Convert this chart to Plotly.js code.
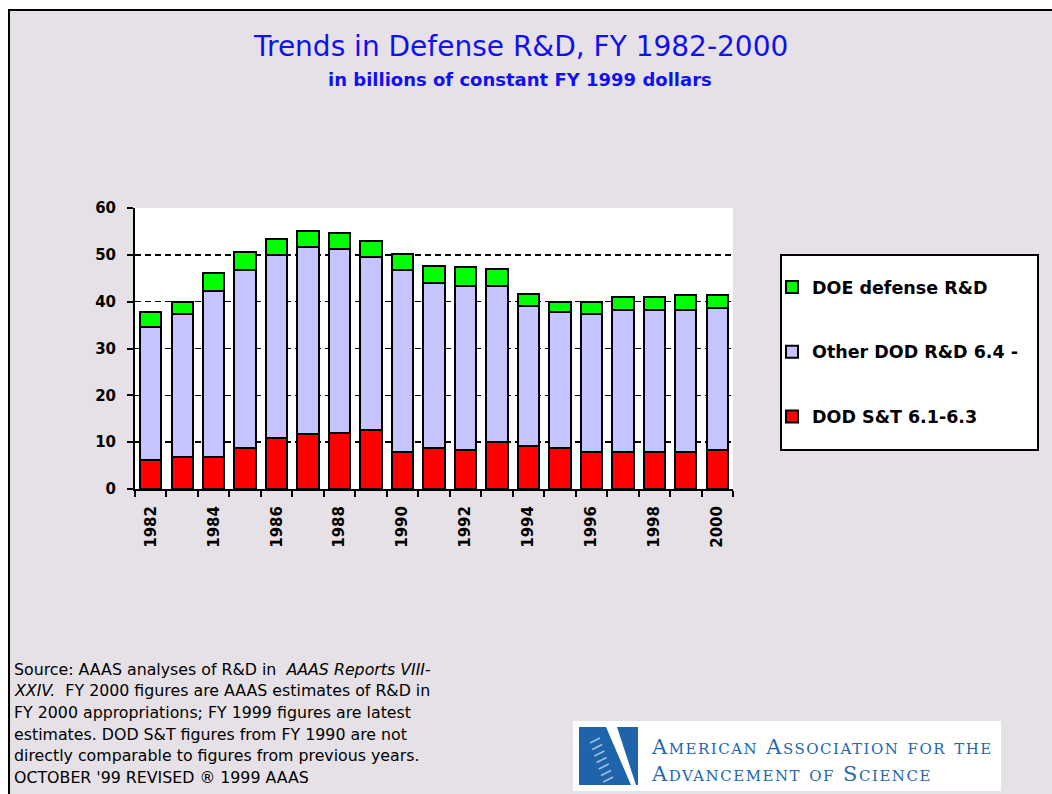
<!DOCTYPE html>
<html>
<head>
<meta charset="utf-8">
<script src="https://cdn.plot.ly/plotly-3.0.1.min.js"></script>
<style>
  html, body { margin: 0; padding: 0; background: #ffffff; }
  #chart { width: 1052px; height: 794px; }
</style>
</head>
<body>
<div id="chart"></div>
<script>
// ---- data (billions of constant FY 1999 dollars) ----
const years = [1982, 1983, 1984, 1985, 1986, 1987, 1988, 1989, 1990, 1991,
               1992, 1993, 1994, 1995, 1996, 1997, 1998, 1999, 2000];
const dodST = [6.2, 6.9, 6.8, 8.8, 10.8, 11.7, 12.0, 12.5, 8.0, 8.7,
               8.3, 10.0, 9.2, 8.7, 7.8, 7.8, 7.8, 7.8, 8.3];
const otherDOD = [28.3, 30.4, 35.5, 37.9, 39.2, 39.9, 39.2, 37.1, 38.8, 35.2,
                  35.1, 33.4, 29.8, 29.1, 29.6, 30.4, 30.4, 30.4, 30.3];
const doeDefense = [3.2, 2.7, 3.8, 3.9, 3.4, 3.4, 3.4, 3.3, 3.3, 3.8,
                    4.0, 3.5, 2.7, 2.2, 2.6, 2.7, 2.7, 3.3, 2.9];
const seriesNames = ["DOD S&T 6.1-6.3", "Other DOD R&D 6.4 -", "DOE defense R&D"];
const yTicks = [0, 10, 20, 30, 40, 50, 60];

const titleText = "Trends in Defense R&D, FY 1982-2000";
const subtitleText = "in billions of constant FY 1999 dollars";
const noteLines = [
  "Source: AAAS analyses of R&D in  <i>AAAS Reports VIII-</i>",
  "<i>XXIV.</i>  FY 2000 figures are AAAS estimates of R&D in",
  "FY 2000 appropriations; FY 1999 figures are latest",
  "estimates. DOD S&T figures from FY 1990 are not",
  "directly comparable to figures from previous years.",
  "OCTOBER '99 REVISED \u00AE 1999 AAAS"
];
const logoLines = ["American Association for the", "Advancement of Science"];

// ---- layout geometry (pixels) ----
const W = 1052, H = 794;
const M = { l: 135, r: 319, t: 208, b: 305 };
const PW = W - M.l - M.r, PH = H - M.t - M.b;
const X = px => (px - M.l) / PW;
const Y = py => (H - M.b - py) / PH;
const path = pts => pts.map((p, i) => (i ? "L" : "M") + X(p[0]) + "," + Y(p[1])).join(" ") + " Z";

const colors = ["#FF0000", "#C6C4FE", "#00FF00"];
const lineSpec = { color: "#000000", width: 2 };
const values = [dodST, otherDOD, doeDefense];

const data = values.map((v, i) => ({
  type: "bar",
  x: years,
  y: v,
  name: seriesNames[i],
  legendgroup: "g" + i,
  legendrank: 3 - i,
  width: 0.68,
  marker: { color: colors[i], line: lineSpec },
  hoverinfo: "x+y+name"
}));

const shapes = [
  // outer frame
  { type: "rect", xref: "paper", yref: "paper", x0: X(0), x1: X(W), y0: Y(0), y1: Y(9),
    fillcolor: "#ffffff", line: { width: 0 }, layer: "above" },
  { type: "rect", xref: "paper", yref: "paper", x0: X(0), x1: X(8), y0: Y(0), y1: Y(H),
    fillcolor: "#ffffff", line: { width: 0 }, layer: "above" },
  { type: "line", xref: "paper", yref: "paper", x0: X(8), x1: X(W), y0: Y(10), y1: Y(10),
    line: { color: "#000", width: 2 }, layer: "above" },
  { type: "line", xref: "paper", yref: "paper", x0: X(9), x1: X(9), y0: Y(9), y1: Y(H),
    line: { color: "#000", width: 2 }, layer: "above" },
  // legend box
  { type: "rect", xref: "paper", yref: "paper", x0: X(781), x1: X(1038), y0: Y(255), y1: Y(450),
    fillcolor: "#ffffff", line: { color: "#000", width: 2 }, layer: "above" },
  // logo panel
  { type: "rect", xref: "paper", yref: "paper", x0: X(573), x1: X(1001), y0: Y(721), y1: Y(791),
    fillcolor: "#ffffff", line: { width: 0 }, layer: "above" },
  { type: "path", xref: "paper", yref: "paper",
    path: path([[579, 727], [606, 727], [631, 785], [579, 785]]),
    fillcolor: "#1F63AA", line: { width: 0 }, layer: "above" },
  { type: "path", xref: "paper", yref: "paper",
    path: path([[617, 727], [638, 727], [638, 785], [636, 785]]),
    fillcolor: "#1F63AA", line: { width: 0 }, layer: "above" }
];
// light ladder pattern in the logo
for (let k = 0; k < 7; k++) {
  const yy = 740 + k * 6.5;
  shapes.push({ type: "line", xref: "paper", yref: "paper",
    x0: X(590 + k * 2.2), x1: X(600 + k * 2.2), y0: Y(yy + 3), y1: Y(yy - 2),
    line: { color: "#9FC0E4", width: 1.5 }, layer: "above" });
}

const annotations = [
  { text: titleText, x: X(520), y: Y(46), xref: "paper", yref: "paper", showarrow: false,
    xanchor: "center", yanchor: "middle",
    font: { family: "DejaVu Sans", size: 28, color: "#1010F0" } },
  { text: "<b>" + subtitleText + "</b>", x: X(520), y: Y(80), xref: "paper", yref: "paper",
    showarrow: false, xanchor: "center", yanchor: "middle",
    font: { family: "DejaVu Sans", size: 18, color: "#1010F0" } }
];
noteLines.forEach((t, i) => {
  annotations.push({ text: t, x: X(12), y: Y(669 + i * 21.7), xref: "paper", yref: "paper",
    showarrow: false, xanchor: "left", yanchor: "middle",
    font: { family: "DejaVu Sans", size: 15.8, color: "#000000" } });
});
logoLines.forEach((t, i) => {
  annotations.push({ text: '<span style="letter-spacing:1.5px">' + t + '</span>',
    x: X(649), y: Y(747 + i * 27), xref: "paper", yref: "paper",
    showarrow: false, xanchor: "left", yanchor: "middle",
    font: { family: "DejaVu Serif", size: 21, color: "#2466AE", variant: "small-caps" } });
});

const layout = {
  width: W, height: H,
  margin: M,
  paper_bgcolor: "#E6E1E6",
  plot_bgcolor: "#FFFFFF",
  barmode: "stack",
  showlegend: true,
  legend: {
    x: X(772), y: Y(352), xanchor: "left", yanchor: "middle",
    traceorder: "grouped", tracegroupgap: 39,
    bgcolor: "rgba(0,0,0,0)", borderwidth: 0,
    font: { family: "DejaVu Sans", size: 17.5, color: "#000", weight: "bold" }
  },
  xaxis: {
    range: [1981.5, 2000.5],
    tickmode: "linear", tick0: 1982, dtick: 2,
    ticks: "", tickangle: -90,
    ticklabelstandoff: 9,
    tickfont: { family: "DejaVu Sans", size: 15, color: "#000", weight: "bold" },
    minor: { tickmode: "linear", tick0: 1981.5, dtick: 1, ticks: "outside", ticklen: 6,
             tickwidth: 2, tickcolor: "#000", showgrid: false },
    showline: true, linecolor: "#000", linewidth: 2,
    showgrid: false, zeroline: false, fixedrange: true
  },
  yaxis: {
    range: [0, 60],
    tickmode: "array", tickvals: yTicks,
    ticks: "outside", ticklen: 6, tickwidth: 2, tickcolor: "#000",
    ticklabelstandoff: 8,
    tickfont: { family: "DejaVu Sans", size: 15, color: "#000", weight: "bold" },
    showline: true, linecolor: "#000", linewidth: 2,
    showgrid: true, gridcolor: "#000", gridwidth: 1.5, griddash: "6px,4px",
    zeroline: false, fixedrange: true
  },
  shapes: shapes,
  annotations: annotations
};

Plotly.newPlot("chart", data, layout, { displayModeBar: false, staticPlot: true });
</script>
</body>
</html>
